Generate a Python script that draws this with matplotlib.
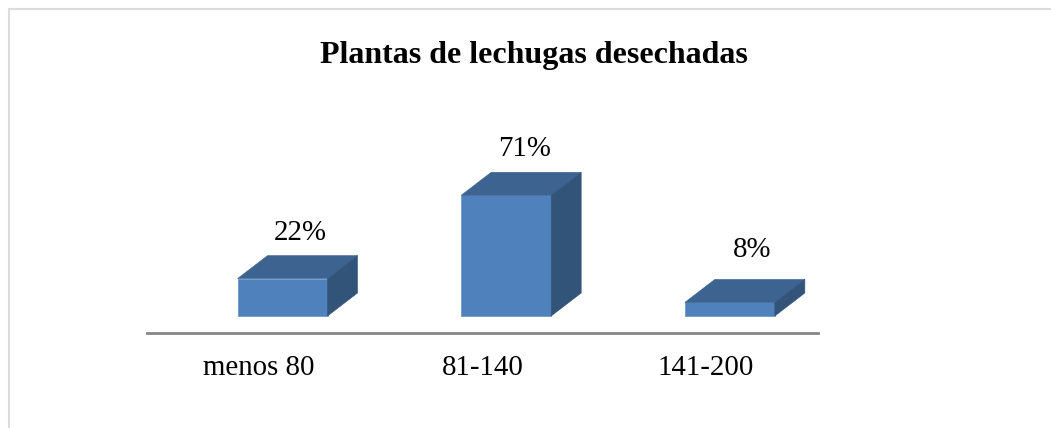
import matplotlib
matplotlib.use('Agg')
import matplotlib.pyplot as plt
from matplotlib.lines import Line2D
from matplotlib.patches import Polygon

categories = ['menos 80', '81-140', '141-200']
values = [22, 71, 8]
labels = ['22%', '71%', '8%']

W, H = 1051, 428
plt.rcParams['font.family'] = ['Liberation Serif', 'DejaVu Serif']

fig = plt.figure(figsize=(W / 100, H / 100), dpi=100)

# only top and left of the frame are in the picture
fig.add_artist(Line2D([9 / W, 9 / W, 1], [0, 1 - 9 / H, 1 - 9 / H], transform=fig.transFigure,
                      color='#dcdcdc', linewidth=1.5, solid_joinstyle='miter'))

# axes box in pixels, line at the bottom is the floor
left, right, bottom, top = 147, 818, 333, 120
ax = fig.add_axes([left / W, 1 - bottom / H, (right - left) / W, (bottom - top) / H])
px_x = 3 / (right - left)
px_y = 1 / 1.7
ax.set_xlim(-0.5, 2.5)
ax.set_ylim(-17 * px_y, (bottom - top - 17) * px_y)
ax.patch.set_alpha(0)

for s in ['top', 'left', 'right']:
    ax.spines[s].set_visible(False)
ax.spines['bottom'].set_color('#868686')
ax.spines['bottom'].set_linewidth(2.0)
ax.set_yticks([])
ax.set_xticks(range(len(categories)))
ax.set_xticklabels(categories, fontsize=20.8)
ax.tick_params(axis='x', length=0, pad=16)

shift = 23.7 * px_x  # bars sit right of the category centre
half = 45 * px_x
dx = 30 * px_x
dy = 23 * px_y

for i, v in enumerate(values):
    x0, x1 = i + shift - half, i + shift + half
    ax.add_patch(Polygon([(x0, 0), (x1, 0), (x1, v), (x0, v)], facecolor='#4f81bd',
                         edgecolor='#6f97c8', linewidth=0.6))
    ax.add_patch(Polygon([(x0, v), (x1, v), (x1 + dx, v + dy), (x0 + dx, v + dy)],
                         facecolor='#3d6390', edgecolor='#3d6390', linewidth=0.4))
    ax.add_patch(Polygon([(x1, 0), (x1 + dx, dy), (x1 + dx, v + dy), (x1, v)],
                         facecolor='#335479', edgecolor='#335479', linewidth=0.4))
    # the smallest bar has its label moved up and right in the original
    nudge_x, nudge_y = (4, 6) if i == 2 else (0, 0)
    ax.text(i + shift + (18 + nudge_x) * px_x, v + dy + (10 + nudge_y) * px_y, labels[i],
            ha='center', va='bottom', fontsize=20.8, color='black')

fig.text(534 / W, 1 - 55 / H, 'Plantas de lechugas desechadas', ha='center', va='center',
         fontsize=23, fontweight='bold', color='black')

fig.savefig('out.png', dpi=100)
